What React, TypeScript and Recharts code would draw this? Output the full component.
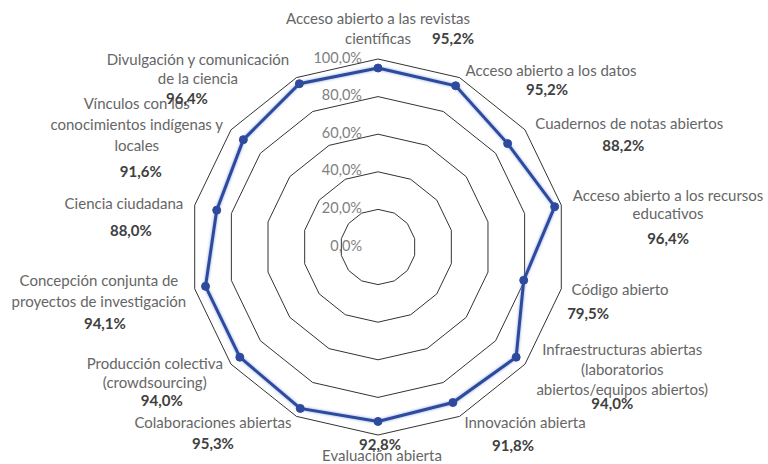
import { PolarAngleAxis, PolarGrid, PolarRadiusAxis, Radar, RadarChart } from "recharts";

const categories = [
  "Acceso abierto a las revistas\ncientíficas",
  "Acceso abierto a los datos",
  "Cuadernos de notas abiertos",
  "Acceso abierto a los recursos\neducativos",
  "Código abierto",
  "Infraestructuras abiertas\n(laboratorios\nabiertos/equipos abiertos)",
  "Innovación abierta",
  "Evaluación abierta",
  "Colaboraciones abiertas",
  "Producción colectiva\n(crowdsourcing)",
  "Concepción conjunta de\nproyectos de investigación",
  "Ciencia ciudadana",
  "Vínculos con los\nconocimientos indígenas y\nlocales",
  "Divulgación y comunicación\nde la ciencia",
];

const values = [95.2, 95.2, 88.2, 96.4, 79.5, 94.0, 91.8, 92.8, 95.3, 94.0, 94.1, 88.0, 91.6, 96.4];

const radiusTicks = [0, 20, 40, 60, 80, 100];

// label offsets from the axis tick point: [dx, dy, lineGap, valueDx, valueDy]
const labelLayout = [
  [0, -31, 20, 75, -11],
  [88, 2, 20, 84, 21],
  [98, 0, 20, 92, 22],
  [99, -6, 18, 99, 37],
  [51, 1, 20, 19, 25],
  [91, -18, 20, 81, 36],
  [62, 1, 20, 50, 24],
  [4, 14, 20, 2, 3],
  [-80, 1, 20, -80, 22],
  [-70, -4, 19, -63, 33],
  [-88, -8, 21, -82, 35],
  [-63, 2, 20, -56, 29],
  [-88, -20, 21, -84, 48],
  [-95, -9, 19, -106, 30],
];

const data = categories.map((name, i) => ({ name, value: values[i] }));

const FONT = "Lato, 'Open Sans', sans-serif";
const BLUE = "#2E4A9C";
const fmt = (v: number) => v.toFixed(1).replace(".", ",") + "%";

function CategoryTick(props: any) {
  const { x, y, payload, index } = props;
  const i = payload?.index ?? index;
  const [dx, dy, gap, vdx, vdy] = labelLayout[i];
  const lines = categories[i].split("\n");
  return (
    <g>
      {lines.map((line, k) => (
        <text
          key={k}
          x={x + dx}
          y={y + dy + k * gap}
          textAnchor="middle"
          dominantBaseline="middle"
          fontFamily={FONT}
          fontSize={15}
          fill="#666666"
        >
          {line}
        </text>
      ))}
      <text
        x={x + vdx}
        y={y + vdy}
        textAnchor="middle"
        dominantBaseline="middle"
        fontFamily={FONT}
        fontSize={15}
        fontWeight="bold"
        fill="#404040"
      >
        {fmt(values[i])}
      </text>
    </g>
  );
}

function RadiusTick(props: any) {
  const { x, y, payload } = props;
  return (
    <text
      x={x - 16}
      y={y}
      textAnchor="end"
      dominantBaseline="middle"
      fontFamily={FONT}
      fontSize={14.5}
      fill="#808080"
    >
      {fmt(payload.value)}
    </text>
  );
}

function Dot(props: any) {
  const { cx, cy } = props;
  return <circle cx={cx} cy={cy} r={4} fill={BLUE} stroke={BLUE} strokeWidth={1} />;
}

export default function App() {
  return (
    <div style={{ position: "absolute", left: 0, top: 0, background: "#fff" }}>
      <style>{`.recharts-radar-polygon { filter: drop-shadow(0 0 1.5px rgba(110,140,220,0.8)); }`}</style>
      <RadarChart
        width={768}
        height={464}
        data={data}
        cx={378}
        cy={247}
        outerRadius={188}
        margin={{ top: 0, right: 0, bottom: 0, left: 0 }}
      >
        <PolarGrid gridType="polygon" radialLines={false} stroke="#333333" strokeWidth={1} />
        <PolarAngleAxis dataKey="name" tick={(p: any) => <CategoryTick {...p} />} tickLine={false} axisLine={false} />
        <PolarRadiusAxis
          angle={90}
          domain={[0, 100]}
          ticks={radiusTicks}
          tick={(p: any) => <RadiusTick {...p} />}
          axisLine={false}
          tickLine={false}
        />
        <Radar
          dataKey="value"
          stroke={BLUE}
          strokeWidth={3}
          fill="none"
          fillOpacity={0}
          dot={(p: any) => <Dot key={p.index} {...p} />}
          isAnimationActive={false}
        />
      </RadarChart>
    </div>
  );
}
